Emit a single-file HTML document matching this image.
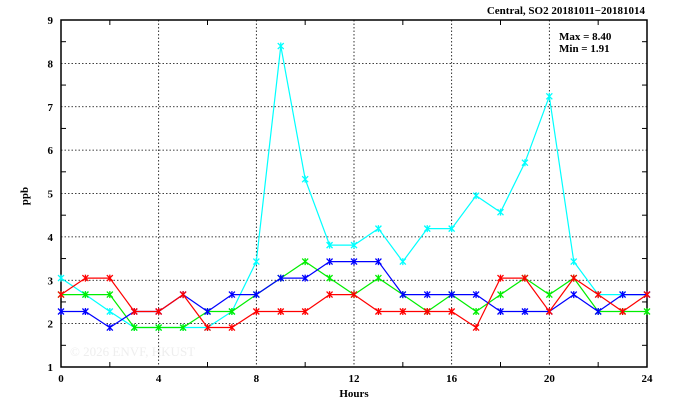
<!DOCTYPE html>
<html><head><meta charset="utf-8"><style>
html,body{margin:0;padding:0;background:#fff;width:674px;height:409px;overflow:hidden}
svg text{font-family:"Liberation Serif",serif;font-weight:bold;fill:#000}
</style></head><body>
<svg id="s" width="674" height="409" xmlns="http://www.w3.org/2000/svg">
<text x="645" y="14" font-size="11" text-anchor="end">Central, SO2 20181011−20181014</text>
<text x="70" y="356" font-size="13" style="fill:#eee;font-weight:normal">© 2026  ENVF, HKUST</text>
<text x="559" y="40" font-size="11">Max = 8.40</text>
<text x="559" y="52" font-size="11">Min = 1.91</text>
<text x="354" y="397" font-size="11" text-anchor="middle">Hours</text>
<text x="28" y="196" font-size="11" text-anchor="middle" transform="rotate(-90 28 196)">ppb</text>
<g id="g"></g>
</svg>
<script>
var L=61,R=647,T=20,B=367;
function X(h){return L+(R-L)*h/24}function Y(v){return B-(B-T)*(v-1)/8}
var s='';
for(var h=4;h<24;h+=4)s+='<line x1="'+X(h)+'" y1="'+T+'" x2="'+X(h)+'" y2="'+B+'" stroke="#000" stroke-width="0.8" stroke-dasharray="1.5,2"/>';
for(var v=2;v<9;v++)s+='<line x1="'+L+'" y1="'+Y(v)+'" x2="'+R+'" y2="'+Y(v)+'" stroke="#000" stroke-width="0.8" stroke-dasharray="1.5,2"/>';
for(var h=2;h<24;h+=2){var l=(h%4==0)?0:5;if(l){s+='<line x1="'+X(h)+'" y1="'+B+'" x2="'+X(h)+'" y2="'+(B-5)+'" stroke="#000"/><line x1="'+X(h)+'" y1="'+T+'" x2="'+X(h)+'" y2="'+(T+5)+'" stroke="#000"/>';}}
for(var v=1.5;v<9;v+=1)s+='<line x1="'+L+'" y1="'+Y(v)+'" x2="'+(L+5)+'" y2="'+Y(v)+'" stroke="#000"/><line x1="'+R+'" y1="'+Y(v)+'" x2="'+(R-5)+'" y2="'+Y(v)+'" stroke="#000"/>';
s+='<rect x="'+L+'" y="'+T+'" width="'+(R-L)+'" height="'+(B-T)+'" fill="none" stroke="#000" stroke-width="1.5"/>';
for(var h=0;h<=24;h+=4)s+='<text x="'+X(h)+'" y="382" font-size="11" text-anchor="middle">'+h+'</text>';
for(var v=1;v<=9;v++)s+='<text x="53" y="'+(Y(v)+4)+'" font-size="11" text-anchor="end">'+v+'</text>';
var D={
"#00ffff":[3.05,2.67,2.28,1.91,1.91,1.91,1.91,2.28,3.43,8.40,5.33,3.81,3.81,4.19,3.43,4.19,4.19,4.95,4.57,5.71,7.24,3.43,2.67,2.67,2.67],
"#00ee00":[2.67,2.67,2.67,1.91,1.91,1.91,2.28,2.28,2.67,3.05,3.43,3.05,2.67,3.05,2.67,2.28,2.67,2.28,2.67,3.05,2.67,3.05,2.28,2.28,2.28],
"#0000ff":[2.28,2.28,1.91,2.28,2.28,2.67,2.28,2.67,2.67,3.05,3.05,3.43,3.43,3.43,2.67,2.67,2.67,2.67,2.28,2.28,2.28,2.67,2.28,2.67,2.67],
"#ff0000":[2.67,3.05,3.05,2.28,2.28,2.67,1.91,1.91,2.28,2.28,2.28,2.67,2.67,2.28,2.28,2.28,2.28,1.91,3.05,3.05,2.28,3.05,2.67,2.28,2.67]};
for(var c in D){var p=D[c].map(function(v,i){return X(i).toFixed(1)+','+Y(v).toFixed(1)}).join(' ');
s+='<polyline points="'+p+'" fill="none" stroke="'+c+'" stroke-width="1.2"/>';
D[c].forEach(function(v,i){var x=X(i),y=Y(v);s+='<path d="M'+(x-3)+' '+(y-3)+'L'+(x+3)+' '+(y+3)+'M'+(x+3)+' '+(y-3)+'L'+(x-3)+' '+(y+3)+'M'+x+' '+(y-3.5)+'V'+(y+3.5)+'" stroke="'+c+'" stroke-width="1.3"/>';});}
document.getElementById('g').innerHTML=s;
</script>
</body></html>
